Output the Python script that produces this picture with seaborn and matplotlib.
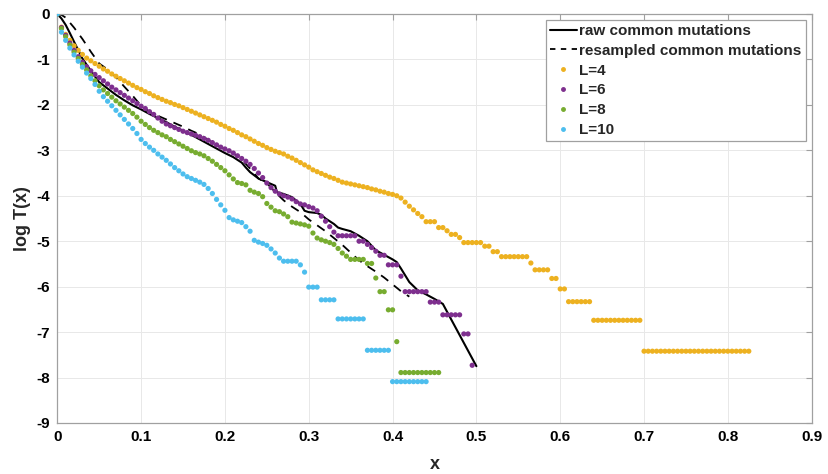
import numpy as np
import pandas as pd
import matplotlib
matplotlib.use("Agg")
import matplotlib.pyplot as plt
import seaborn as sns
from matplotlib.lines import Line2D

# ---------------------------------------------------------------
# values (dots every 0.005 in x, starting at 0)
step = 0.005

logT_L4 = ([0.0,
            -0.29, -0.45, -0.58, -0.70, -0.80, -0.89, -0.97, -1.03, -1.09, -1.15,
            -1.21, -1.26, -1.32, -1.37, -1.42, -1.47, -1.52, -1.57, -1.62, -1.66,
            -1.71, -1.75, -1.80, -1.84, -1.88, -1.92, -1.95, -1.99, -2.02, -2.06,
            -2.10, -2.14, -2.18, -2.22, -2.26, -2.30, -2.34, -2.38, -2.43, -2.47,
            -2.52, -2.56, -2.61, -2.66, -2.70, -2.75, -2.80, -2.85, -2.89, -2.94,
            -2.98, -3.02, -3.05, -3.08, -3.13, -3.17, -3.22, -3.27, -3.32, -3.37,
            -3.43, -3.47, -3.51, -3.55, -3.59, -3.62, -3.66, -3.70, -3.72, -3.74,
            -3.76, -3.78, -3.80, -3.82, -3.85, -3.87, -3.90, -3.92, -3.95, -3.97,
            -4.00,
            -4.05, -4.14, -4.23, -4.31, -4.39, -4.46, -4.57, -4.57, -4.57, -4.70,
            -4.70, -4.77, -4.85, -4.85, -4.92]
           + [-5.03] * 5 + [-5.11] * 2 + [-5.23] * 2 + [-5.34] * 7 + [-5.48]
           + [-5.63] * 4 + [-5.82] * 2 + [-6.05] * 2 + [-6.33] * 6
           + [-6.74] * 12 + [-7.42] * 26)

logT_L6 = ([0.0,
            -0.30, -0.47, -0.64, -0.80, -0.94, -1.06, -1.16, -1.25, -1.33, -1.40,
            -1.47, -1.54, -1.61, -1.67, -1.73, -1.79, -1.85, -1.91, -1.97, -2.03,
            -2.08, -2.15, -2.21, -2.29, -2.36, -2.42, -2.46, -2.50, -2.54, -2.58,
            -2.61, -2.64, -2.67, -2.70, -2.74, -2.78, -2.83, -2.88, -2.93, -2.97,
            -3.01, -3.06, -3.12, -3.18, -3.24, -3.31, -3.40, -3.50, -3.60,
            -3.72, -3.82, -3.90, -3.96, -4.00, -4.03, -4.07, -4.13, -4.18, -4.20,
            -4.24, -4.27, -4.33, -4.45, -4.56, -4.68, -4.80]
           + [-4.88] * 5 + [-5.00] * 2 + [-5.07, -5.14, -5.22] + [-5.31] * 2
           + [-5.52] * 3 + [-5.77] + [-6.11] * 6 + [-6.34] * 3 + [-6.62] * 5
           + [-7.04] * 2 + [-7.73])

logT_L8 = ([0.0,
            -0.32, -0.50, -0.68, -0.84, -0.98, -1.11, -1.23, -1.36, -1.47, -1.58,
            -1.67, -1.75, -1.83, -1.91, -1.98, -2.05, -2.12, -2.19, -2.27, -2.36,
            -2.43, -2.50, -2.56, -2.61, -2.66, -2.70, -2.76, -2.81, -2.86, -2.91,
            -2.96, -3.01, -3.05, -3.08, -3.12, -3.18, -3.24, -3.31, -3.38,
            -3.45, -3.54, -3.63, -3.71, -3.73, -3.76, -3.88, -3.92, -3.95, -4.02,
            -4.17, -4.25, -4.33, -4.35, -4.40, -4.46, -4.58, -4.60, -4.62, -4.64,
            -4.67,
            -4.82, -4.93, -4.97, -5.00, -5.03, -5.07, -5.16, -5.26, -5.33]
           + [-5.40] * 4 + [-5.49] * 2 + [-5.81] + [-6.11] * 2 + [-6.51] * 2
           + [-7.21] + [-7.89] * 10)

logT_L10 = ([0.0,
             -0.40, -0.58, -0.75, -0.90, -1.04, -1.17, -1.30, -1.42, -1.55, -1.70,
             -1.82, -1.92, -2.02, -2.12, -2.22, -2.32, -2.42, -2.52, -2.63, -2.76,
             -2.85, -2.93, -3.00, -3.08, -3.15,
             -3.22, -3.30, -3.38, -3.45, -3.52, -3.58, -3.62, -3.66, -3.70, -3.75,
             -3.84, -3.95, -4.08, -4.20, -4.32, -4.48, -4.53, -4.56, -4.59, -4.68,
             -4.78,
             -4.98, -5.02, -5.05, -5.09, -5.17, -5.26, -5.37]
            + [-5.44] * 4 + [-5.52, -5.68] + [-6.01] * 3 + [-6.29] * 4
            + [-6.71] * 7 + [-7.40] * 6 + [-8.09] * 9)

# raw / resampled curves of common mutations
raw_x = [0, 0.005, 0.01, 0.015, 0.02, 0.03, 0.04, 0.05, 0.06, 0.07, 0.08, 0.09,
         0.10, 0.11, 0.12, 0.13, 0.14, 0.15, 0.16, 0.17, 0.18, 0.19, 0.20, 0.21,
         0.22, 0.225, 0.23, 0.24, 0.25, 0.255, 0.26, 0.262, 0.27, 0.28, 0.29,
         0.295, 0.30, 0.31, 0.315, 0.32, 0.33, 0.335, 0.34, 0.35, 0.36, 0.37,
         0.375, 0.38, 0.39, 0.40, 0.405, 0.41, 0.415, 0.42, 0.43, 0.44, 0.45,
         0.46, 0.50]
raw_y = [0, -0.10, -0.24, -0.42, -0.61, -0.98, -1.25, -1.50, -1.64, -1.78,
         -1.90, -2.01, -2.10, -2.20, -2.29, -2.38, -2.48, -2.57, -2.66, -2.76,
         -2.86, -2.96, -3.06, -3.15, -3.27, -3.38, -3.48, -3.62, -3.70, -3.74,
         -3.78, -3.92, -3.96, -4.03, -4.18, -4.33, -4.36, -4.38, -4.42, -4.50,
         -4.62, -4.70, -4.73, -4.78, -4.88, -5.00, -5.10, -5.20, -5.30, -5.40,
         -5.46, -5.60, -5.75, -5.90, -6.08, -6.17, -6.27, -6.38, -7.75]

res_x = [0, 0.005, 0.01, 0.02, 0.03, 0.04, 0.05, 0.06, 0.07, 0.08, 0.09, 0.10,
         0.11, 0.12, 0.13, 0.14, 0.15, 0.16, 0.17, 0.18, 0.19, 0.20, 0.21, 0.22,
         0.23, 0.24, 0.25, 0.26, 0.27, 0.28, 0.29, 0.30, 0.31, 0.32, 0.33, 0.34,
         0.35, 0.36, 0.37, 0.38, 0.39, 0.40, 0.41, 0.42]
res_y = [0, -0.02, -0.08, -0.30, -0.55, -0.83, -1.09, -1.22, -1.39, -1.60,
         -1.80, -2.02, -2.15, -2.24, -2.32, -2.40, -2.48, -2.57, -2.65, -2.77,
         -2.88, -2.98, -3.07, -3.20, -3.40, -3.62, -3.72, -3.92, -4.10, -4.24,
         -4.36, -4.52, -4.65, -4.78, -4.93, -5.08, -5.25, -5.42, -5.55, -5.67,
         -5.80, -5.95, -6.10, -6.22]

series = {"L=4": logT_L4, "L=6": logT_L6, "L=8": logT_L8, "L=10": logT_L10}
colors = {"L=4": "#EDB120", "L=6": "#7E2F8E", "L=8": "#77AC30", "L=10": "#4DBEEE"}

frames = []
for name, vals in series.items():
    frames.append(pd.DataFrame({"x": np.arange(len(vals)) * step,
                                "logT": vals, "L": name}))
dots = pd.concat(frames, ignore_index=True)
lines = pd.concat([pd.DataFrame({"x": raw_x, "logT": raw_y, "kind": "raw"}),
                   pd.DataFrame({"x": res_x, "logT": res_y, "kind": "resampled"})],
                  ignore_index=True)

# ---------------------------------------------------------------
sns.set_style("white")
plt.rcParams["font.family"] = ["Liberation Sans", "DejaVu Sans"]
plt.rcParams["axes.unicode_minus"] = False

fig = plt.figure(figsize=(8.29, 4.74), dpi=100)
ax = fig.add_axes([0.0691, 0.1076, 0.9100, 0.8629])

sns.lineplot(data=lines[lines.kind == "raw"], x="x", y="logT", color="black",
             lw=1.5, estimator=None, sort=False, ax=ax, legend=False)
sns.lineplot(data=lines[lines.kind == "resampled"], x="x", y="logT",
             color="black", lw=1.3, estimator=None, sort=False, ax=ax,
             legend=False, dashes=False, linestyle=(0, (5, 4)))
sns.scatterplot(data=dots, x="x", y="logT", hue="L", palette=colors, s=14,
                linewidth=0, ax=ax, legend=False, zorder=3)

ax.set_xlim(0, 0.9)
ax.set_ylim(-9, 0)
ax.set_xticks(np.arange(0, 0.91, 0.1))
ax.set_xticklabels(["0", "0.1", "0.2", "0.3", "0.4", "0.5", "0.6", "0.7", "0.8", "0.9"])
ax.set_yticks(range(-9, 1))
ax.grid(True, color="#e8e8e8", lw=0.7)
ax.set_axisbelow(True)
for sp in ax.spines.values():
    sp.set_color("#a0a0a0")
    sp.set_linewidth(0.9)
ax.tick_params(direction="in", top=True, right=True, length=4, width=0.8,
               color="#a0a0a0", labelcolor="black", labelsize=11, pad=5)
for lab in ax.get_xticklabels() + ax.get_yticklabels():
    lab.set_fontweight("bold")
ax.set_xlabel("x", fontsize=13, fontweight="bold", labelpad=9)
ax.set_ylabel("log T(x)", fontsize=13, fontweight="bold", labelpad=4)

handles = [Line2D([], [], color="black", lw=1.5),
           Line2D([], [], color="black", lw=1.3, linestyle=(0, (3, 3))),
           ] + [Line2D([], [], color=colors[k], marker=".", ms=5, lw=0)
                for k in series]
leg = ax.legend(handles, ["raw common mutations", "resampled common mutations"]
                + list(series), loc="upper right", fancybox=False, framealpha=1,
                edgecolor="#a0a0a0", prop={"weight": "bold", "size": 11},
                handlelength=1.8, handletextpad=0.15, labelspacing=0.38,
                borderaxespad=0.4, borderpad=0.25)
leg.get_frame().set_linewidth(0.9)

fig.savefig("out.png", dpi=100)
